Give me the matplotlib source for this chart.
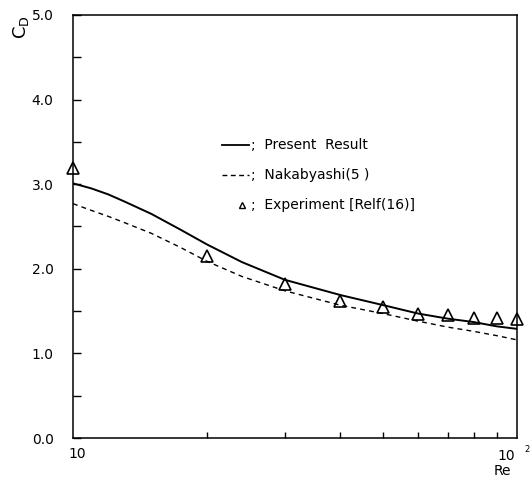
import numpy as np
import matplotlib
matplotlib.use('Agg')
from matplotlib import pyplot as plt

# drag coefficient vs Reynolds number
re_exp = [10, 20, 30, 40, 50, 60, 70, 80, 90, 100]
cd_exp = [3.19, 2.15, 1.82, 1.62, 1.55, 1.47, 1.45, 1.42, 1.42, 1.41]

re_line = [10, 11, 12, 13, 15, 17.5, 20, 24, 30, 40, 50, 60, 70, 80, 90, 100]
cd_present = [3.01, 2.95, 2.88, 2.80, 2.65, 2.46, 2.29, 2.08, 1.87, 1.69, 1.57, 1.47, 1.41, 1.37, 1.32, 1.29]
cd_nakabyashi = [2.77, 2.69, 2.62, 2.55, 2.42, 2.25, 2.09, 1.91, 1.74, 1.57, 1.47, 1.38, 1.31, 1.26, 1.21, 1.16]

W, H = 532, 479
fig = plt.figure(figsize=(W/100, H/100), dpi=100)
ax = fig.add_axes([73/W, 1-438/H, (517-73)/W, (438-15)/H])

ax.plot(re_line, cd_present, color='black', lw=1.4)
ax.plot(re_line, cd_nakabyashi, color='black', lw=1.0, dashes=(3.5, 3))
ax.plot(re_exp, cd_exp, linestyle='none', marker='^', markersize=8,
        markerfacecolor='none', markeredgecolor='black', markeredgewidth=1.2, clip_on=False)

ax.set_xscale('log')
ax.set_xlim(10, 100)
ax.set_ylim(0, 5)

ax.set_yticks(np.arange(0, 5.01, 1.0))
ax.set_yticklabels(['0.0', '1.0', '2.0', '3.0', '4.0', '5.0'])
ax.set_yticks(np.arange(0.5, 5, 1.0), minor=True)
ax.tick_params(axis='y', which='both', direction='in', length=6, width=1, pad=14, labelsize=10)

ax.set_xticks([10, 100])
ax.set_xticklabels(['', ''])
ax.set_xticks([20, 30, 40, 50, 60, 70, 80, 90], minor=True)
ax.xaxis.set_minor_formatter(plt.NullFormatter())
ax.tick_params(axis='x', which='both', direction='in', length=4, width=1)
ax.tick_params(axis='x', which='major', length=0)

for s in ax.spines.values():
    s.set_linewidth(1.1)

def px(x, y):
    return x/W, 1-y/H

fig.text(*px(77, 454), '10', ha='center', va='center', fontsize=10)
fig.text(*px(506, 456), '10', ha='center', va='center', fontsize=10)
fig.text(*px(527, 449), '2', ha='center', va='center', fontsize=6)
fig.text(*px(502, 471), 'Re', ha='center', va='center', fontsize=10)
fig.text(*px(21, 27), r'$\mathrm{C_D}$', ha='center', va='center', fontsize=13, rotation=90)

# legend drawn by hand
fig.add_artist(plt.Line2D([222/W, 249/W], [1-145/H, 1-145/H], color='black', lw=1.3))
fig.text(*px(251, 145), ';  Present  Result', ha='left', va='center', fontsize=10)
fig.add_artist(plt.Line2D([222/W, 249/W], [1-175/H, 1-175/H], color='black', lw=1.0, dashes=(3.5, 2.5)))
fig.text(*px(251, 175), ';  Nakabyashi(5 )', ha='left', va='center', fontsize=10)
fig.add_artist(plt.Line2D([242/W], [1-205/H], marker='^', markersize=5, markerfacecolor='none',
                          markeredgecolor='black', markeredgewidth=1.0, linestyle='none'))
fig.text(*px(251, 205), ';  Experiment [Relf(16)]', ha='left', va='center', fontsize=10)

plt.savefig('out.png', dpi=100)
